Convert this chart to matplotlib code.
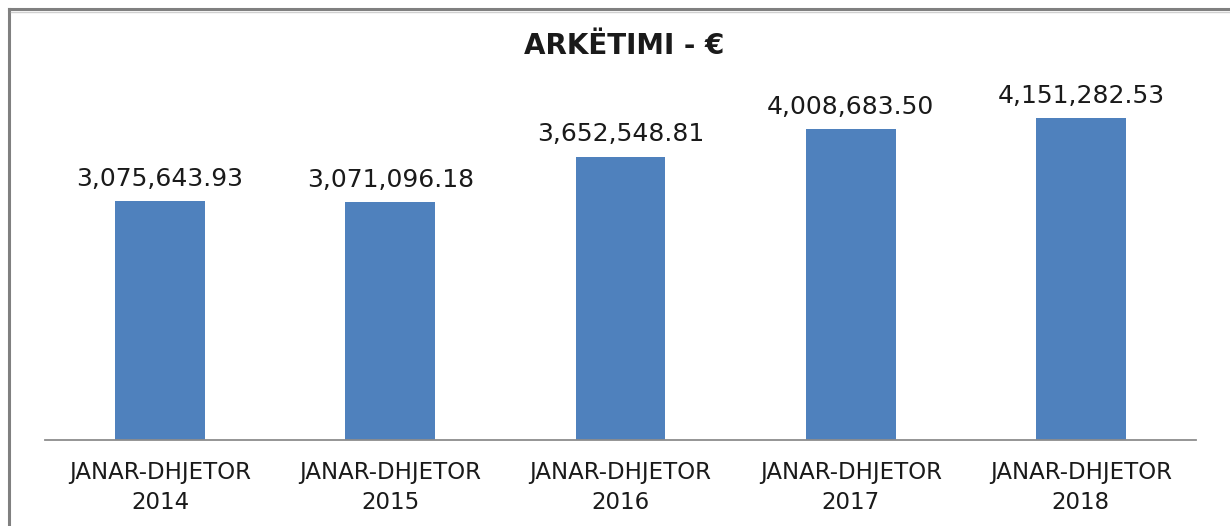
import numpy as np
import matplotlib.pyplot as plt
from matplotlib.lines import Line2D

# data
categories = ["JANAR-DHJETOR\n2014", "JANAR-DHJETOR\n2015", "JANAR-DHJETOR\n2016",
              "JANAR-DHJETOR\n2017", "JANAR-DHJETOR\n2018"]
values = [3075643.93, 3071096.18, 3652548.81, 4008683.50, 4151282.53]
value_labels = ["3,075,643.93", "3,071,096.18", "3,652,548.81",
                "4,008,683.50", "4,151,282.53"]
title = "ARKËTIMI - €"

BAR_COLOR = "#4F81BD"
TEXT_COLOR = "#1a1a1a"

plt.rcParams['font.family'] = ['DejaVu Sans']

fig = plt.figure(figsize=(12.3, 5.26), dpi=100)
ax = fig.add_axes([45 / 1230, 1 - 440 / 526, 1151 / 1230, 349 / 526])

x = np.arange(len(categories))
bars = ax.bar(x, values, width=0.39, color=BAR_COLOR, zorder=2)

ax.set_xlim(-0.5, len(categories) - 0.5)
ax.set_ylim(0, 4500000)

for rect, label in zip(bars, value_labels):
    ax.annotate(label,
                xy=(rect.get_x() + rect.get_width() / 2, rect.get_height()),
                xytext=(0, 11), textcoords="offset points",
                ha="center", va="baseline", fontsize=18, color=TEXT_COLOR)

ax.set_xticks(x)
ax.set_xticklabels(categories, fontsize=16.5, color=TEXT_COLOR, linespacing=1.4)
ax.tick_params(axis="x", length=0, pad=15)
ax.set_yticks([])

for side in ["top", "right", "left"]:
    ax.spines[side].set_visible(False)
ax.spines["bottom"].set_color("#8c8c8c")
ax.spines["bottom"].set_linewidth(1.3)

fig.text(624 / 1230, 1 - 46 / 526, title, ha="center", va="center",
         fontsize=20, fontweight="bold", color=TEXT_COLOR)

# chart frame (top and left edges visible)
fig.add_artist(Line2D([9 / 1230, 1.0], [1 - 9 / 526, 1 - 9 / 526],
                      transform=fig.transFigure, color="#808080", linewidth=2.2))
fig.add_artist(Line2D([9 / 1230, 9 / 1230], [0.0, 1 - 9 / 526],
                      transform=fig.transFigure, color="#808080", linewidth=2.2))
fig.add_artist(Line2D([11 / 1230, 1.0], [1 - 11.5 / 526, 1 - 11.5 / 526],
                      transform=fig.transFigure, color="#d0d0d0", linewidth=1))

fig.savefig("out.png", dpi=100)
